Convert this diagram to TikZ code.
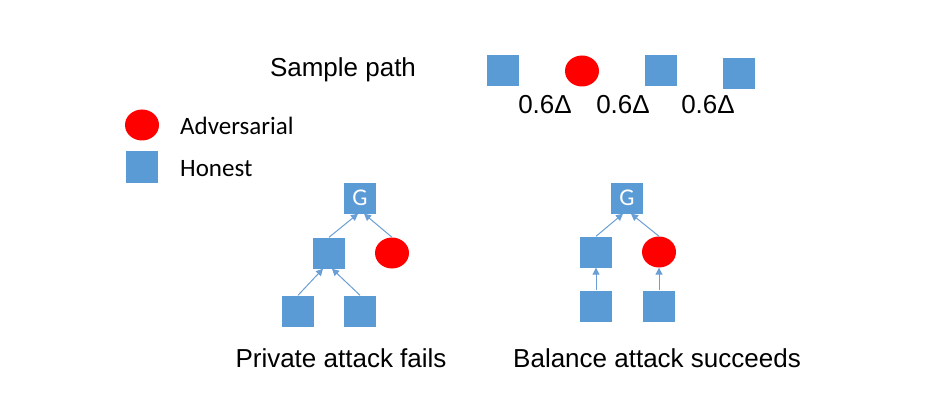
\documentclass[tikz,border=0pt]{standalone}
\usepackage{fontspec}
\setmainfont{Liberation Sans}
\newfontfamily\calfont{Carlito}
\usetikzlibrary{arrows.meta,shapes.geometric}
\definecolor{hblue}{HTML}{5B9BD5}
\definecolor{ared}{HTML}{FF0000}
\definecolor{lnblue}{HTML}{6A9FD6}
\tikzset{
  hsq/.style={fill=hblue, draw=none, minimum width=32pt, minimum height=31pt, inner sep=0pt},
  adv/.style={ellipse, fill=ared, draw=none, minimum width=34pt, minimum height=31pt, inner sep=0pt},
  lbl/.style={font=\fontsize{26}{30}\selectfont, inner sep=0pt},
  leg/.style={font=\calfont\fontsize{25}{30}\selectfont, inner sep=0pt, anchor=west},
  gtxt/.style={text=white, font=\calfont\fontsize{24}{26}\selectfont},
  link/.style={draw=lnblue, line width=1pt, -{Triangle[length=7pt,width=7pt]}}
}
\begin{document}
\begin{tikzpicture}[x=1pt,y=-1pt]
\useasboundingbox[fill=white] (0,0) rectangle (925,406);
% sample path
\node[lbl] (sp) at (343,70) {Sample path};
\node[hsq] (p1) at (503,71) {};
\node[adv] (p2) at (582,71) {};
\node[hsq] (p3) at (661,71) {};
\node[hsq] (p4) at (739,74) {};
\node[lbl] (d1) at (545,105) {0.6Δ};
\node[lbl] (d2) at (623,105) {0.6Δ};
\node[lbl] (d3) at (708,105) {0.6Δ};
% legend
\node[adv] (la) at (142,125) {};
\node[hsq] (lh) at (142,167) {};
\node[leg] (lat) at (180,126) {Adversarial};
\node[leg] (lht) at (180,169) {Honest};
% tree 1
\node[hsq,gtxt] (g1) at (360,198) {G};
\node[hsq] (m1) at (329,253) {};
\node[adv] (c1) at (392,253) {};
\node[hsq] (b1) at (298,311) {};
\node[hsq] (b2) at (360,311) {};
\draw[link] (m1.north) -- ([xshift=-2pt]g1.south);
\draw[link] (c1.north) -- ([xshift=4pt]g1.south);
\draw[link] (b1.north) -- ([xshift=-6pt]m1.south);
\draw[link] (b2.north) -- ([xshift=3pt]m1.south);
% tree 2
\node[hsq,gtxt] (g2) at (627,198) {G};
\node[hsq] (m2) at (596,252) {};
\node[adv] (c2) at (659,252) {};
\node[hsq] (e1) at (596,306) {};
\node[hsq] (e2) at (659,306) {};
\draw[link] (m2.north) -- ([xshift=-4pt]g2.south);
\draw[link] (c2.north) -- ([xshift=4pt]g2.south);
\draw[link] (e1.north) -- (m2.south);
\draw[link] (e2.north) -- (c2.south);
% captions
\node[lbl] (cap1) at (341,358) {Private attack fails};
\node[lbl] (cap2) at (657,358) {Balance attack succeeds};
\end{tikzpicture}
\end{document}
